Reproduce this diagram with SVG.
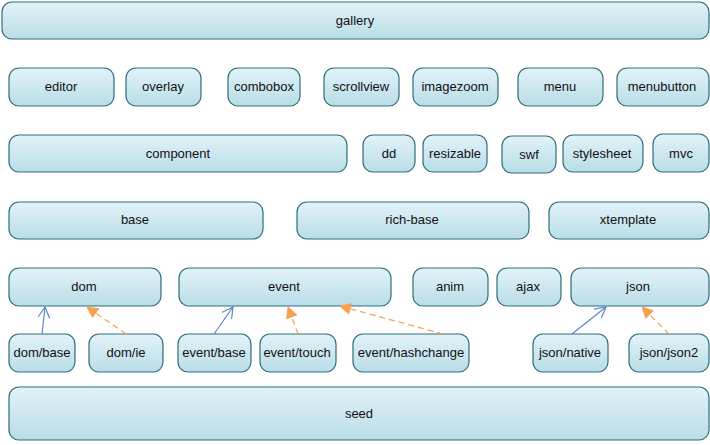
<svg xmlns="http://www.w3.org/2000/svg" width="710" height="445" viewBox="0 0 710 445">
<defs>
<linearGradient id="g" x1="0" y1="0" x2="0" y2="1">
<stop offset="0" stop-color="#e2f3f8"/>
<stop offset="1" stop-color="#b9dde7"/>
</linearGradient>
<marker id="open" viewBox="0 0 12 12" refX="11" refY="6" markerWidth="12" markerHeight="12" markerUnits="userSpaceOnUse" orient="auto">
<path d="M0,0 L11,6 L0,12" fill="none" stroke="#5b86c8" stroke-width="1.2"/>
</marker>
<marker id="tri" viewBox="0 0 12 12" refX="11" refY="6" markerWidth="12" markerHeight="12" markerUnits="userSpaceOnUse" orient="auto">
<path d="M0,0 L12,6 L0,12 Z" fill="#f7a050"/>
</marker>
</defs>
<style>
.n rect{fill:url(#g);stroke:#2f6d7c;stroke-width:1.2}
.n text{font-family:"Liberation Sans",Arial,sans-serif;font-size:13px;fill:#111;text-anchor:middle;dominant-baseline:central}
.s{stroke:#5b86c8;stroke-width:1.2;fill:none;marker-end:url(#open)}
.d{stroke:#f7a050;stroke-width:1.2;fill:none;stroke-dasharray:6,4;marker-end:url(#tri)}
</style>
<g id="gallery" class="n"><rect x="2" y="2" width="707" height="37" rx="10"/><text x="355" y="20">gallery</text></g>
<g id="editor" class="n"><rect x="9" y="68" width="105" height="38" rx="10"/><text x="61" y="86">editor</text></g>
<g id="overlay" class="n"><rect x="126" y="68" width="75" height="38" rx="10"/><text x="163" y="86">overlay</text></g>
<g id="combobox" class="n"><rect x="228" y="68" width="72" height="38" rx="10"/><text x="264" y="86">combobox</text></g>
<g id="scrollview" class="n"><rect x="324" y="68" width="75" height="38" rx="10"/><text x="361" y="86">scrollview</text></g>
<g id="imagezoom" class="n"><rect x="413" y="68" width="85" height="38" rx="10"/><text x="455" y="86">imagezoom</text></g>
<g id="menu" class="n"><rect x="518" y="68" width="85" height="38" rx="10"/><text x="560" y="86">menu</text></g>
<g id="menubutton" class="n"><rect x="617" y="68" width="92" height="38" rx="10"/><text x="662" y="86">menubutton</text></g>
<g id="component" class="n"><rect x="9" y="135" width="338" height="37" rx="10"/><text x="178" y="153">component</text></g>
<g id="dd" class="n"><rect x="363" y="135" width="52" height="37" rx="10"/><text x="389" y="153">dd</text></g>
<g id="resizable" class="n"><rect x="423" y="135" width="64" height="37" rx="10"/><text x="455" y="153">resizable</text></g>
<g id="swf" class="n"><rect x="502" y="136" width="54" height="37" rx="10"/><text x="529" y="154">swf</text></g>
<g id="stylesheet" class="n"><rect x="563" y="135" width="80" height="37" rx="10"/><text x="602" y="153">stylesheet</text></g>
<g id="mvc" class="n"><rect x="653" y="134" width="56" height="38" rx="10"/><text x="681" y="153">mvc</text></g>
<g id="base" class="n"><rect x="9" y="202" width="254" height="37" rx="10"/><text x="135" y="219">base</text></g>
<g id="rich-base" class="n"><rect x="297" y="202" width="232" height="37" rx="10"/><text x="412" y="219">rich-base</text></g>
<g id="xtemplate" class="n"><rect x="549" y="202" width="160" height="37" rx="10"/><text x="628" y="219">xtemplate</text></g>
<g id="dom" class="n"><rect x="9" y="268" width="152" height="38" rx="10"/><text x="84" y="286">dom</text></g>
<g id="event" class="n"><rect x="179" y="268" width="212" height="38" rx="10"/><text x="284" y="286">event</text></g>
<g id="anim" class="n"><rect x="413" y="268" width="75" height="38" rx="10"/><text x="450" y="286">anim</text></g>
<g id="ajax" class="n"><rect x="497" y="268" width="64" height="38" rx="10"/><text x="528" y="286">ajax</text></g>
<g id="json" class="n"><rect x="571" y="268" width="138" height="38" rx="10"/><text x="638" y="286">json</text></g>
<g id="dom-base" class="n"><rect x="9" y="334" width="66" height="38" rx="10"/><text x="42" y="352">dom/base</text></g>
<g id="dom-ie" class="n"><rect x="89" y="334" width="74" height="38" rx="10"/><text x="126" y="352">dom/ie</text></g>
<g id="event-base" class="n"><rect x="178" y="334" width="73" height="38" rx="10"/><text x="214" y="352">event/base</text></g>
<g id="event-touch" class="n"><rect x="260" y="334" width="76" height="38" rx="10"/><text x="297" y="352">event/touch</text></g>
<g id="event-hashchange" class="n"><rect x="353" y="334" width="116" height="38" rx="10"/><text x="411" y="352">event/hashchange</text></g>
<g id="json-native" class="n"><rect x="533" y="334" width="75" height="38" rx="10"/><text x="570" y="352">json/native</text></g>
<g id="json-json2" class="n"><rect x="629" y="334" width="80" height="38" rx="10"/><text x="669" y="352">json/json2</text></g>
<g id="seed" class="n"><rect x="9" y="387" width="700" height="53" rx="10"/><text x="359" y="413">seed</text></g>
<g id="connectors">
<path class="s" d="M42,334 L45,307"/>
<path class="d" d="M126,334 L87,307"/>
<path class="s" d="M214,334 L233,307"/>
<path class="d" d="M298,334 L288,307"/>
<path class="d" d="M443,334 L340,306"/>
<path class="s" d="M572,334 L606,307"/>
<path class="d" d="M669,334 L642,307"/>
</g>
</svg>
